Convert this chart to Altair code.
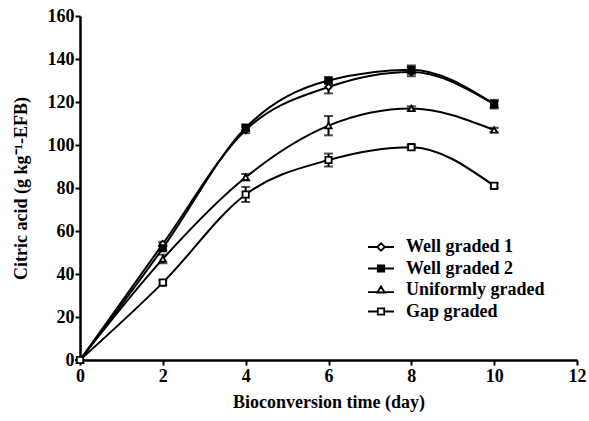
import altair as alt
import pandas as pd

days = [0, 2, 4, 6, 8, 10]
series_names = ["Well graded 1", "Well graded 2", "Uniformly graded", "Gap graded"]
wg1 = [0, 54, 107, 127, 134, 119]
wg2 = [0, 52, 108, 130, 135, 119]
ug = [0, 47, 85, 109, 117, 107]
gg = [0, 36, 77, 93, 99, 81]
wg1_err = [0, 1, 1.5, 3, 2, 1.5]
wg2_err = [0, 1, 1.5, 1.5, 2, 2]
ug_err = [0, 2, 1.5, 4.5, 1, 1]
gg_err = [0, 1, 3.5, 3, 1, 1]

marker_shapes = ["diamond", "square", "triangle-up", "square"]
marker_fills = ["white", "black", "white", "white"]
marker_strokes = ["black", "black", "black", "black"]
legend_shapes = [
    "M-1.3,0H-0.38M0.38,0H1.3M0,-0.38L0.38,0L0,0.38L-0.38,0Z",
    "M-1.3,0H-0.32M0.32,0H1.3M-0.32,-0.32H0.32V0.32H-0.32Z",
    "M-1.3,0.22H-0.38M0.38,0.22H1.3M0,-0.35L0.38,0.25H-0.38Z",
    "M-1.3,0H-0.32M0.32,0H1.3M-0.32,-0.32H0.32V0.32H-0.32Z",
]

rows = []
for name, vals, errs in zip(series_names, [wg1, wg2, ug, gg], [wg1_err, wg2_err, ug_err, gg_err]):
    for d, v, e in zip(days, vals, errs):
        rows.append({"day": d, "value": v, "lo": v - e, "hi": v + e, "series": name})
df = pd.DataFrame(rows)

FONT = "Liberation Serif"
YTITLE = "Citric acid (g kg⁻¹-EFB)"

x = alt.X("day:Q", scale=alt.Scale(domain=[0, 12], nice=False),
          axis=alt.Axis(values=[0, 2, 4, 6, 8, 10, 12], title="Bioconversion time (day)"))
y = alt.Y("value:Q", scale=alt.Scale(domain=[0, 160], nice=False),
          axis=alt.Axis(values=list(range(0, 161, 20)), title=YTITLE))

base = alt.Chart(df)

lines = base.mark_line(interpolate="monotone", color="black", strokeWidth=2).encode(
    x=x, y=y, detail="series:N")

err = base.mark_errorbar(ticks=alt.TickConfig(size=9, thickness=2), color="black", thickness=2).encode(
    x="day:Q", y=alt.Y("lo:Q", title=YTITLE), y2="hi:Q")

point_layers = []
for name, shp, fl in zip(series_names, marker_shapes, marker_fills):
    point_layers.append(
        base.transform_filter(alt.datum.series == name).mark_point(
            shape=shp, size=40, strokeWidth=1.8, opacity=1, stroke="black", fill=fl, filled=True
        ).encode(x="day:Q", y="value:Q")
    )

legend_cfg = dict(
    title=None, orient="none", legendX=290, legendY=220,
    labelFont=FONT, labelFontSize=18, labelFontWeight="bold", labelColor="black",
    symbolSize=400, rowPadding=1.5, labelOffset=14,
    symbolStrokeWidth=1.8, symbolOpacity=1,
)

legend_layer = base.transform_filter("false").mark_point(
    size=400, strokeWidth=1.8, opacity=1, filled=True
).encode(
    x="day:Q", y="value:Q",
    shape=alt.Shape("series:N", sort=series_names,
                    scale=alt.Scale(domain=series_names, range=legend_shapes),
                    legend=alt.Legend(**legend_cfg)),
    fill=alt.Fill("series:N", sort=series_names,
                  scale=alt.Scale(domain=series_names, range=marker_fills),
                  legend=alt.Legend(**legend_cfg)),
    stroke=alt.Stroke("series:N", sort=series_names,
                      scale=alt.Scale(domain=series_names, range=marker_strokes),
                      legend=alt.Legend(**legend_cfg)),
)

chart = alt.layer(lines, err, *point_layers, legend_layer).properties(
    width=497, height=344,
    autosize=alt.AutoSizeParams(type="none"),
    padding={"left": 80, "top": 16, "right": 12, "bottom": 61},
).configure_view(stroke=None).configure_axis(
    domainColor="black", domainWidth=2.5, tickColor="black", tickWidth=2, tickSize=5,
    grid=False, labelFont=FONT, labelFontSize=18, labelFontWeight="bold", labelColor="black",
    titleFont=FONT, titleFontSize=18, titleFontWeight="bold", titleColor="black",
    labelFlush=False,
).configure_axisX(titlePadding=8, labelPadding=2).configure_axisY(titlePadding=17, labelPadding=1)

chart.save("out.html", embed_options={"renderer": "svg", "actions": False})
